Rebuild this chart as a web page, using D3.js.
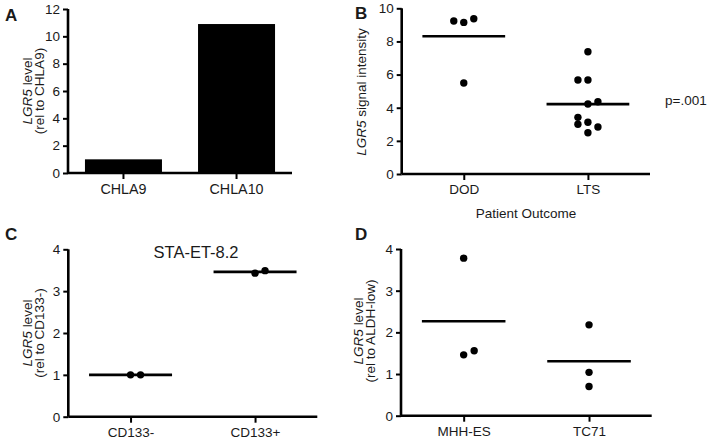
<!DOCTYPE html>
<html><head><meta charset="utf-8">
<script src="https://cdn.jsdelivr.net/npm/d3@7"></script>
<style>
body{margin:0;background:#fff;}
svg{display:block;font-family:"Liberation Sans",Arial,sans-serif;}
text{fill:#1a1a1a;}
</style></head>
<body>
<svg id="c" width="709" height="439"></svg>
<script>
// ---- Data ----
// Panel A
const aCategories = ["CHLA9", "CHLA10"];
const aValues = [1.0, 10.9];
const aTicks = [0, 2, 4, 6, 8, 10, 12];
// Panel B
const bCategories = ["DOD", "LTS"];
const bDOD = [9.23, 9.15, 9.37, 5.49];
const bDODSlots = [-1, 0, 1, 0];
const bLTS = [7.38, 5.67, 5.67, 4.22, 4.36, 3.42, 3.0, 3.12, 2.84, 2.49];
const bLTSSlots = [0, -1, 0, 0, 1, -1, -1, 0, 1, 0];
const bTicks = [0, 2, 4, 6, 8, 10];
// Panel C
const cCategories = ["CD133-", "CD133+"];
const cNeg = [1.0, 1.0];
const cNegSlots = [0, 1];
const cPos = [3.43, 3.49];
const cPosSlots = [0, 1];
const cTicks = [0, 1, 2, 3, 4];
// Panel D
const dCategories = ["MHH-ES", "TC71"];
const dMHH = [3.78, 1.46, 1.56];
const dMHHSlots = [0, 0, 1];
const dTC71 = [2.18, 1.04, 0.70];
const dTC71Slots = [0, 0, 0];
const dTicks = [0, 1, 2, 3, 4];

const svg = d3.select("#c");
const FS = 13.5;

function yAxis(g, y, ticks, x0) {
  const ax = g.append("g").attr("transform", `translate(${x0},0)`)
    .call(d3.axisLeft(y).tickValues(ticks).tickFormat(d3.format("d")).tickSize(5).tickPadding(3));
  ax.select(".domain").attr("stroke", "#000").attr("stroke-width", 2.6);
  ax.selectAll(".tick line").attr("stroke", "#000").attr("stroke-width", 2);
  ax.selectAll(".tick text").attr("font-size", FS).attr("fill", "#1a1a1a")
    .attr("font-family", "Liberation Sans, Arial, sans-serif");
  ax.select(".domain").attr("d", `M0,${y.range()[0]}V${y.range()[1]}`);
}
function xAxis(g, x, y0, fs) {
  const ax = g.append("g").attr("transform", `translate(0,${y0})`)
    .call(d3.axisBottom(x).tickSize(6).tickPadding(4));
  const r = x.range();
  ax.select(".domain").attr("stroke", "#000").attr("stroke-width", 2.6)
    .attr("d", `M${r[0]},0H${r[1]}`);
  ax.selectAll(".tick line").attr("stroke", "#000").attr("stroke-width", 2);
  ax.selectAll(".tick text").attr("font-size", fs || FS).attr("fill", "#1a1a1a")
    .attr("font-family", "Liberation Sans, Arial, sans-serif").attr("dy", "0.75em");
}
function yLabel(g, cx, cy, lines) {
  lines.forEach((ln, i) => {
    const t = g.append("text")
      .attr("transform", `translate(${cx[i]},${cy}) rotate(-90)`)
      .attr("text-anchor", "middle").attr("dominant-baseline", "central")
      .attr("font-size", FS);
    ln.forEach(part => t.append("tspan").attr("font-style", part.i ? "italic" : "normal").text(part.t));
  });
}
function letter(g, x, y, s) {
  g.append("text").attr("x", x).attr("y", y).attr("font-size", 17)
    .attr("font-weight", "bold").attr("fill", "#000").text(s);
}
function scatter(g, x, y, cat, vals, slots, slotW) {
  const cx = x(cat);
  g.selectAll(null).data(vals).enter().append("circle")
    .attr("cx", (d, i) => cx + slots[i] * slotW)
    .attr("cy", d => y(d)).attr("r", 3.7).attr("fill", "#000");
  const m = d3.mean(vals);
  const hw = x.step() / 3;
  g.append("line").attr("x1", cx - hw).attr("x2", cx + hw)
    .attr("y1", y(m)).attr("y2", y(m)).attr("stroke", "#000").attr("stroke-width", 2.6);
}

// ---- Panel A ----
{
  const g = svg.append("g");
  const y = d3.scaleLinear().domain([0, 12]).range([173, 9]);
  const x = d3.scaleBand().domain(aCategories).range([68, 292]).paddingInner(0.319).paddingOuter(0.15);
  g.selectAll(null).data(aCategories).enter().append("rect")
    .attr("x", d => x(d)).attr("width", x.bandwidth())
    .attr("y", (d, i) => y(aValues[i])).attr("height", (d, i) => y(0) - y(aValues[i]))
    .attr("fill", "#000");
  xAxis(g, x, y(0), 14.3);
  yAxis(g, y, aTicks, 68);
  yLabel(g, [27, 39], 91, [[{t: "LGR5", i: true}, {t: " level"}], [{t: "(rel to CHLA9)"}]]);
  letter(g, 5, 21, "A");
}
// ---- Panel B ----
{
  const g = svg.append("g");
  const y = d3.scaleLinear().domain([0, 10]).range([174, 8.3]);
  const x = d3.scalePoint().domain(bCategories).range([401.7, 650]).padding(0.5);
  scatter(g, x, y, "DOD", bDOD, bDODSlots, 10);
  scatter(g, x, y, "LTS", bLTS, bLTSSlots, 10);
  xAxis(g, x, y(0));
  yAxis(g, y, bTicks, 401.7);
  yLabel(g, [361], 92, [[{t: "LGR5", i: true}, {t: " signal intensity"}]]);
  g.append("text").attr("x", 526).attr("y", 213).attr("text-anchor", "middle")
    .attr("dominant-baseline", "central").attr("font-size", FS).text("Patient Outcome");
  g.append("text").attr("x", 665).attr("y", 100).attr("dominant-baseline", "central")
    .attr("font-size", FS).text("p=.001");
  letter(g, 355, 19, "B");
}
// ---- Panel C ----
{
  const g = svg.append("g");
  const y = d3.scaleLinear().domain([0, 4]).range([416.7, 249.3]);
  const x = d3.scalePoint().domain(cCategories).range([68.3, 317.3]).padding(0.5);
  scatter(g, x, y, "CD133-", cNeg, cNegSlots, 10);
  scatter(g, x, y, "CD133+", cPos, cPosSlots, 10);
  xAxis(g, x, y(0));
  yAxis(g, y, cTicks, 68.3);
  yLabel(g, [27, 39], 333, [[{t: "LGR5", i: true}, {t: " level"}], [{t: "(rel to CD133-)"}]]);
  g.append("text").attr("x", 196).attr("y", 252).attr("text-anchor", "middle")
    .attr("dominant-baseline", "central").attr("font-size", 16.5).text("STA-ET-8.2");
  letter(g, 5, 240, "C");
}
// ---- Panel D ----
{
  const g = svg.append("g");
  const y = d3.scaleLinear().domain([0, 4]).range([415.7, 249]);
  const x = d3.scalePoint().domain(dCategories).range([401, 651.7]).padding(0.5);
  scatter(g, x, y, "MHH-ES", dMHH, dMHHSlots, 10.5);
  scatter(g, x, y, "TC71", dTC71, dTC71Slots, 10.5);
  xAxis(g, x, y(0));
  yAxis(g, y, dTicks, 401);
  yLabel(g, [358, 370], 331, [[{t: "LGR5", i: true}, {t: " level"}], [{t: "(rel to ALDH-low)"}]]);
  letter(g, 355, 240, "D");
}
</script>
</body></html>
